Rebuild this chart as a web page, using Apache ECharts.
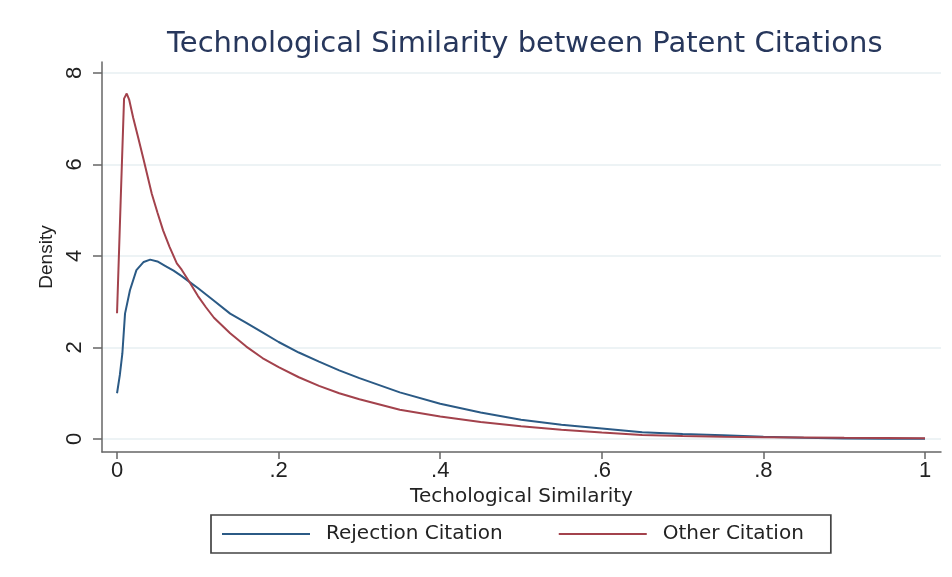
<!DOCTYPE html>
<html><head><meta charset="utf-8">
<script src="https://cdn.jsdelivr.net/npm/echarts@6/dist/echarts.min.js"></script>
<style>html,body{margin:0;padding:0;background:#fff}#c{width:952px;height:577px}</style>
</head><body><div id="c"></div>
<script>
const xTicks = [0, 0.2, 0.4, 0.6, 0.8, 1];
const xTickLabels = ['0', '.2', '.4', '.6', '.8', '1'];
const yTicks = [0, 2, 4, 6, 8];
const yTickLabels = ['0', '2', '4', '6', '8'];
const seriesNames = ['Rejection Citation', 'Other Citation'];

const rejX = [0, 0.0035, 0.0066, 0.0099, 0.016, 0.024, 0.033, 0.041, 0.05, 0.06, 0.07, 0.08, 0.09, 0.1, 0.12, 0.14, 0.16, 0.18, 0.2, 0.225, 0.25, 0.275, 0.3, 0.35, 0.4, 0.45, 0.5, 0.55, 0.6, 0.65, 0.7, 0.75, 0.8, 0.85, 0.9, 0.95, 1.0];
const rejY = [1.0, 1.4, 1.87, 2.74, 3.25, 3.69, 3.87, 3.92, 3.88, 3.78, 3.68, 3.56, 3.43, 3.30, 3.02, 2.74, 2.54, 2.33, 2.12, 1.89, 1.69, 1.50, 1.33, 1.02, 0.77, 0.58, 0.42, 0.31, 0.23, 0.15, 0.11, 0.08, 0.05, 0.03, 0.012, 0.006, 0.004];

const othX = [0, 0.0045, 0.0087, 0.012, 0.015, 0.02, 0.026, 0.033, 0.043, 0.05, 0.057, 0.065, 0.074, 0.08, 0.09, 0.1, 0.11, 0.12, 0.14, 0.16, 0.18, 0.2, 0.225, 0.25, 0.275, 0.3, 0.35, 0.4, 0.45, 0.5, 0.55, 0.6, 0.65, 0.7, 0.75, 0.8, 0.85, 0.9, 0.95, 1.0];
const othY = [2.75, 5.2, 7.44, 7.55, 7.42, 7.02, 6.6, 6.1, 5.36, 4.95, 4.56, 4.2, 3.84, 3.7, 3.42, 3.13, 2.88, 2.65, 2.31, 2.02, 1.77, 1.57, 1.35, 1.16, 1.0, 0.87, 0.64, 0.49, 0.37, 0.28, 0.2, 0.14, 0.09, 0.065, 0.048, 0.04, 0.032, 0.025, 0.02, 0.015];

const colors = ['#2b5a85', '#a3424c'];

function pairs(xs, ys) { return xs.map((x, i) => [x, ys[i]]); }

const sansFont = 'Liberation Sans, Arial, sans-serif';
const wideFont = 'DejaVu Sans, Verdana, sans-serif';
const chart = echarts.init(document.getElementById('c'));
chart.setOption({
  animation: false,
  backgroundColor: '#ffffff',
  title: {
    text: 'Technological Similarity between Patent Citations',
    left: 162, top: 25,
    textStyle: { fontFamily: wideFont, fontSize: 29, fontWeight: 'normal', color: '#27375c' }
  },
  grid: { left: 102, top: 62, right: 11, bottom: 125, containLabel: false },
  xAxis: {
    type: 'value', min: -0.0186, max: 1.0198,
    name: 'Techological Similarity', nameLocation: 'middle', nameGap: 31,
    nameTextStyle: { fontFamily: wideFont, fontSize: 20, color: '#222' },
    axisLine: { show: true, onZero: false, lineStyle: { color: '#666', width: 1.5 } },
    axisTick: { show: true, length: 7, lineStyle: { color: '#666', width: 1.5 }, customValues: xTicks },
    axisLabel: { customValues: xTicks, margin: 8, fontFamily: sansFont, fontSize: 22, color: '#222',
      formatter: v => { const i = xTicks.findIndex(t => Math.abs(t - v) < 1e-9); return i >= 0 ? xTickLabels[i] : ''; } },
    splitLine: { show: false }
  },
  yAxis: {
    type: 'value', min: -0.284, max: 8.24,
    name: 'Density', nameLocation: 'middle', nameGap: 45, nameRotate: 90,
    nameTextStyle: { fontFamily: sansFont, fontSize: 19, color: '#222' },
    axisLine: { show: true, onZero: false, lineStyle: { color: '#666', width: 1.5 } },
    axisTick: { show: true, length: 9, lineStyle: { color: '#666', width: 1.5 }, customValues: yTicks },
    axisLabel: { customValues: yTicks, rotate: 90, margin: 16, fontFamily: sansFont, fontSize: 22, color: '#222',
      formatter: v => { const i = yTicks.findIndex(t => Math.abs(t - v) < 1e-9); return i >= 0 ? yTickLabels[i] : ''; } },
    splitLine: { show: true, lineStyle: { color: '#edf3f5', width: 2 } }
  },
  legend: {
    left: 211, top: 515,
    padding: [9, 27, 9, 11],
    itemWidth: 88, itemHeight: 2, itemGap: 56,
    icon: 'rect',
    borderColor: '#444', borderWidth: 1.7,
    textStyle: { fontFamily: wideFont, fontSize: 20, color: '#222', padding: [0, 0, 0, 11] },
    data: seriesNames
  },
  series: [
    { name: seriesNames[0], type: 'line', data: pairs(rejX, rejY), showSymbol: false, symbol: 'none',
      lineStyle: { color: colors[0], width: 2 }, itemStyle: { color: colors[0] }, z: 3 },
    { name: seriesNames[1], type: 'line', data: pairs(othX, othY), showSymbol: false, symbol: 'none',
      lineStyle: { color: colors[1], width: 2 }, itemStyle: { color: colors[1] }, z: 4 }
  ]
});
</script></body></html>
